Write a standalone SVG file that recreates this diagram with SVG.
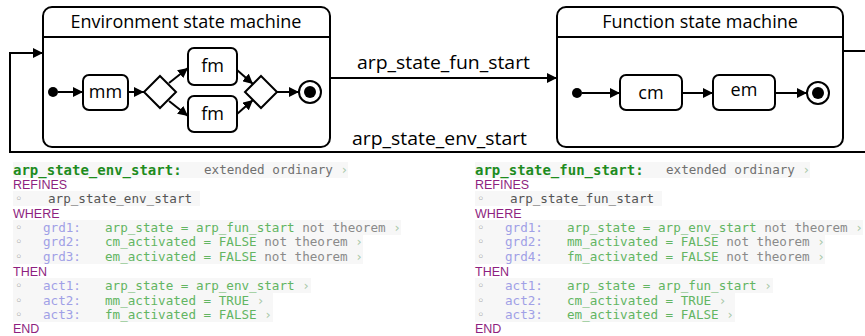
<svg xmlns="http://www.w3.org/2000/svg" width="865" height="336" viewBox="0 0 865 336">
<defs>
<marker id="ah" viewBox="0 0 10 10" refX="10" refY="5" markerWidth="10" markerHeight="10" markerUnits="userSpaceOnUse" orient="auto">
<path d="M0,0 L10,5 L0,10 z" fill="#000"/>
</marker>
<style>
.box{fill:#fff;stroke:#000;stroke-width:2}
.st{fill:#fff;stroke:#000;stroke-width:2}
.ln{fill:none;stroke:#000;stroke-width:2}
.ar{fill:none;stroke:#000;stroke-width:2;marker-end:url(#ah)}
.t{font-family:"Open Sans","Liberation Sans",sans-serif;fill:#000}
.tt{font-size:18px}
.sl{font-size:18px}
.lb{font-size:19px}
.m{font-family:"DejaVu Sans Mono","Liberation Mono",monospace;font-size:12.6px}
.h{font-family:"DejaVu Sans Mono","Liberation Mono",monospace;font-size:14px;font-weight:bold;fill:#1e8c1e}
.k{font-family:"Liberation Sans","DejaVu Sans",sans-serif;font-size:12.5px;fill:#8e1f80}
.eo{fill:#707070}
.bu{fill:#9a9a9a}
.rf{fill:#555}
.lab{fill:#a0a0e6}
.g{fill:#62b562}
.n{fill:#8a8a8a}
.c{fill:#a8c8a8}
.bg{fill:#f7f7f7}
</style>
</defs>

<g id="env-machine">
<rect class="box" x="43" y="7" width="287" height="140" rx="9"/>
<line class="ln" x1="43" y1="37" x2="330" y2="37" stroke-width="1.5"/>
<text class="t tt" x="186" y="28" text-anchor="middle">Environment state machine</text>
</g>
<g id="env-initial"><circle cx="53" cy="92" r="5" fill="#000"/></g>
<g id="mm"><rect class="st" x="83" y="75" width="45" height="35" rx="6"/><text class="t sl" x="105.5" y="98" text-anchor="middle">mm</text></g>
<g id="fork"><path class="st" d="M160,76 L176,92 L160,108 L144,92 Z"/></g>
<g id="fm1"><rect class="st" x="188" y="48" width="49" height="37" rx="6"/><text class="t sl" x="212.5" y="72" text-anchor="middle">fm</text></g>
<g id="fm2"><rect class="st" x="188" y="96" width="49" height="36" rx="6"/><text class="t sl" x="212.5" y="120" text-anchor="middle">fm</text></g>
<g id="join"><path class="st" d="M261,76 L277,92 L261,108 L245,92 Z"/></g>
<g id="env-final"><circle class="st" cx="310" cy="92" r="11"/><circle cx="310" cy="92" r="6" fill="#000"/></g>

<g id="fun-machine">
<rect class="box" x="557" y="7" width="286" height="140" rx="9"/>
<line class="ln" x1="557" y1="37" x2="843" y2="37" stroke-width="1.5"/>
<text class="t tt" x="700" y="28" text-anchor="middle">Function state machine</text>
</g>
<g id="fun-initial"><circle cx="577" cy="93" r="5" fill="#000"/></g>
<g id="cm"><rect class="st" x="620" y="75" width="62" height="35" rx="6"/><text class="t sl" x="651" y="99" text-anchor="middle">cm</text></g>
<g id="em"><rect class="st" x="713" y="75" width="62" height="35" rx="6"/><text class="t sl" x="744" y="96" text-anchor="middle">em</text></g>
<g id="fun-final"><circle class="st" cx="818" cy="93" r="11"/><circle cx="818" cy="93" r="6" fill="#000"/></g>

<g id="connectors">
<line class="ar" x1="58" y1="92" x2="83" y2="92"/>
<line class="ar" x1="128" y1="92" x2="144" y2="92"/>
<line class="ar" x1="169" y1="83" x2="188" y2="68"/>
<line class="ar" x1="169" y1="101" x2="188" y2="116"/>
<line class="ar" x1="237" y1="70" x2="253" y2="84"/>
<line class="ar" x1="237" y1="114" x2="253" y2="100"/>
<line class="ar" x1="277" y1="92" x2="299" y2="92"/>
<line class="ar" x1="330" y1="78" x2="557" y2="78"/>
<polyline class="ln" points="843,51 865,51"/>
<polyline class="ar" points="865,152 10,152 10,53 43,53"/>
<line class="ar" x1="582" y1="93" x2="620" y2="93"/>
<line class="ar" x1="682" y1="93" x2="713" y2="93"/>
<line class="ar" x1="775" y1="93" x2="807" y2="93"/>
<text class="t lb" x="357" y="69" textLength="173" lengthAdjust="spacingAndGlyphs">arp_state_fun_start</text>
<text class="t lb" x="352" y="145" textLength="175" lengthAdjust="spacingAndGlyphs">arp_state_env_start</text>
</g>

<g id="env-event">
<rect class="bg" x="13" y="162" width="335" height="16"/>
<rect class="bg" x="13" y="191" width="187" height="15"/>
<rect class="bg" x="13" y="220" width="388" height="15"/>
<rect class="bg" x="13" y="235" width="350" height="29"/>
<rect class="bg" x="13" y="278" width="298" height="15"/>
<rect class="bg" x="13" y="293" width="260" height="29"/>
<text class="h" x="13" y="175">arp_state_env_start:</text>
<text class="m eo" x="204" y="174">extended ordinary <tspan class="c">›</tspan></text>
<text class="k" x="13" y="189">REFINES</text>
<text class="m bu" x="15" y="203">◦</text><text class="m rf" x="48" y="203">arp_state_env_start</text>
<text class="k" x="13" y="218">WHERE</text>
<text class="m bu" x="15" y="232">◦</text><text class="m lab" x="43" y="232">grd1:</text>
<text class="m g" x="105" y="232">arp_state = arp_fun_start<tspan class="n"> not theorem</tspan><tspan class="c"> ›</tspan></text>
<text class="m bu" x="15" y="246">◦</text><text class="m lab" x="43" y="246">grd2:</text>
<text class="m g" x="105" y="246">cm_activated = FALSE<tspan class="n"> not theorem</tspan><tspan class="c"> ›</tspan></text>
<text class="m bu" x="15" y="261">◦</text><text class="m lab" x="43" y="261">grd3:</text>
<text class="m g" x="105" y="261">em_activated = FALSE<tspan class="n"> not theorem</tspan><tspan class="c"> ›</tspan></text>
<text class="k" x="13" y="276">THEN</text>
<text class="m bu" x="15" y="290">◦</text><text class="m lab" x="43" y="290">act1:</text>
<text class="m g" x="105" y="290">arp_state = arp_env_start<tspan class="c"> ›</tspan></text>
<text class="m bu" x="15" y="305">◦</text><text class="m lab" x="43" y="305">act2:</text>
<text class="m g" x="105" y="305">mm_activated = TRUE<tspan class="c"> ›</tspan></text>
<text class="m bu" x="15" y="319">◦</text><text class="m lab" x="43" y="319">act3:</text>
<text class="m g" x="105" y="319">fm_activated = FALSE<tspan class="c"> ›</tspan></text>
<text class="k" x="13" y="333">END</text>
</g>

<g id="fun-event">
<rect class="bg" x="475" y="162" width="335" height="16"/>
<rect class="bg" x="475" y="191" width="187" height="15"/>
<rect class="bg" x="475" y="220" width="388" height="15"/>
<rect class="bg" x="475" y="235" width="350" height="29"/>
<rect class="bg" x="475" y="278" width="298" height="15"/>
<rect class="bg" x="475" y="293" width="260" height="29"/>
<text class="h" x="475" y="175">arp_state_fun_start:</text>
<text class="m eo" x="666" y="174">extended ordinary <tspan class="c">›</tspan></text>
<text class="k" x="475" y="189">REFINES</text>
<text class="m bu" x="477" y="203">◦</text><text class="m rf" x="510" y="203">arp_state_fun_start</text>
<text class="k" x="475" y="218">WHERE</text>
<text class="m bu" x="477" y="232">◦</text><text class="m lab" x="505" y="232">grd1:</text>
<text class="m g" x="567" y="232">arp_state = arp_env_start<tspan class="n"> not theorem</tspan><tspan class="c"> ›</tspan></text>
<text class="m bu" x="477" y="246">◦</text><text class="m lab" x="505" y="246">grd2:</text>
<text class="m g" x="567" y="246">mm_activated = FALSE<tspan class="n"> not theorem</tspan><tspan class="c"> ›</tspan></text>
<text class="m bu" x="477" y="261">◦</text><text class="m lab" x="505" y="261">grd4:</text>
<text class="m g" x="567" y="261">fm_activated = FALSE<tspan class="n"> not theorem</tspan><tspan class="c"> ›</tspan></text>
<text class="k" x="475" y="276">THEN</text>
<text class="m bu" x="477" y="290">◦</text><text class="m lab" x="505" y="290">act1:</text>
<text class="m g" x="567" y="290">arp_state = arp_fun_start<tspan class="c"> ›</tspan></text>
<text class="m bu" x="477" y="305">◦</text><text class="m lab" x="505" y="305">act2:</text>
<text class="m g" x="567" y="305">cm_activated = TRUE<tspan class="c"> ›</tspan></text>
<text class="m bu" x="477" y="319">◦</text><text class="m lab" x="505" y="319">act3:</text>
<text class="m g" x="567" y="319">em_activated = FALSE<tspan class="c"> ›</tspan></text>
<text class="k" x="475" y="333">END</text>
</g>
</svg>
